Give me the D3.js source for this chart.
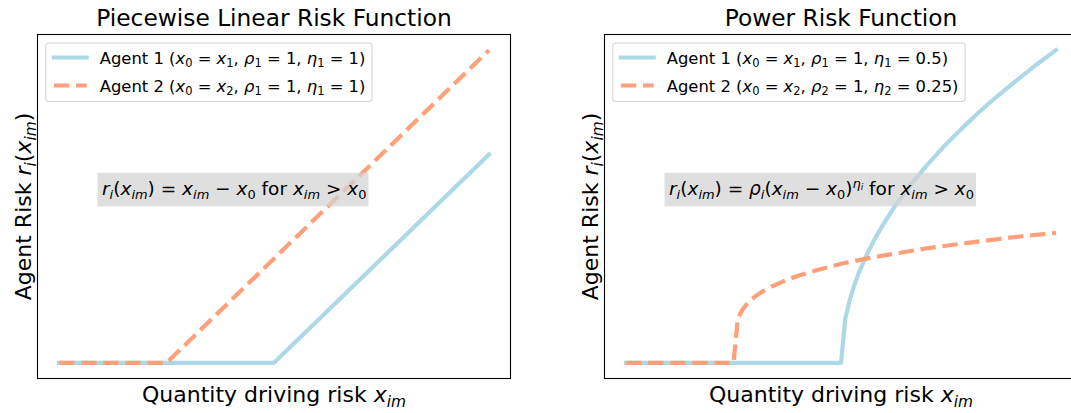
<!DOCTYPE html>
<html>
<head>
<meta charset="utf-8">
<script src="https://cdn.jsdelivr.net/npm/d3@7"></script>
<style>
  body { margin: 0; background: #fff; }
  svg { display: block; font-family: "DejaVu Sans", sans-serif; }
</style>
</head>
<body>
<div id="wrapper"></div>
<script>
// ---- data ----
// piecewise linear panel: breakpoints of each agent's risk curve
const linearAgent1X = [0, 50, 100];
const linearAgent1Y = [0, 0, 50];
const linearAgent2X = [0, 25, 100];
const linearAgent2Y = [0, 0, 75];

// power panel: sampled points of each agent's curve
const powerAgent1X = [0, 50, 51, 52, 53, 54, 56, 58, 60, 63, 66, 70, 74, 78, 82, 86, 90, 95, 100];
const powerAgent1Y = [0, 0, 1.00, 1.41, 1.73, 2.00, 2.45, 2.83, 3.16, 3.61, 4.00, 4.47, 4.90, 5.29, 5.66, 6.00, 6.32, 6.71, 7.07];
const powerAgent2X = [0, 25, 26, 27, 28, 29, 30, 32, 34, 37, 40, 45, 50, 55, 60, 70, 80, 90, 100];
const powerAgent2Y = [0, 0, 1.00, 1.19, 1.32, 1.41, 1.50, 1.63, 1.73, 1.86, 1.97, 2.11, 2.24, 2.34, 2.43, 2.59, 2.72, 2.84, 2.94];

const panelTitles = ["Piecewise Linear Risk Function", "Power Risk Function"];

// label pieces: [text, style]; style r = roman, i = italic, _ = subscript, ^ = superscript
const legendLabels = [
  [
    [["Agent 1 (", "r"], ["x", "i"], ["0", "_r"], [" = ", "r"], ["x", "i"], ["1", "_r"], [", ", "r"], ["ρ", "i"], ["1", "_r"], [" = 1, ", "r"], ["η", "i"], ["1", "_r"], [" = 1)", "r"]],
    [["Agent 2 (", "r"], ["x", "i"], ["0", "_r"], [" = ", "r"], ["x", "i"], ["2", "_r"], [", ", "r"], ["ρ", "i"], ["1", "_r"], [" = 1, ", "r"], ["η", "i"], ["1", "_r"], [" = 1)", "r"]],
  ],
  [
    [["Agent 1 (", "r"], ["x", "i"], ["0", "_r"], [" = ", "r"], ["x", "i"], ["1", "_r"], [", ", "r"], ["ρ", "i"], ["1", "_r"], [" = 1, ", "r"], ["η", "i"], ["1", "_r"], [" = 0.5)", "r"]],
    [["Agent 2 (", "r"], ["x", "i"], ["0", "_r"], [" = ", "r"], ["x", "i"], ["2", "_r"], [", ", "r"], ["ρ", "i"], ["2", "_r"], [" = 1, ", "r"], ["η", "i"], ["2", "_r"], [" = 0.25)", "r"]],
  ],
];

const formulas = [
  [["r", "i"], ["i", "_i"], ["(", "r"], ["x", "i"], ["im", "_i"], [") = ", "r"], ["x", "i"], ["im", "_i"], [" − ", "r"], ["x", "i"], ["0", "_r"], [" for ", "r"], ["x", "i"], ["im", "_i"], [" > ", "r"], ["x", "i"], ["0", "_r"]],
  [["r", "i"], ["i", "_i"], ["(", "r"], ["x", "i"], ["im", "_i"], [") = ", "r"], ["ρ", "i"], ["i", "_i"], ["(", "r"], ["x", "i"], ["im", "_i"], [" − ", "r"], ["x", "i"], ["0", "_r"], [")", "r"], ["η", "^i"], ["i", "^_i"], [" for ", "r"], ["x", "i"], ["im", "_i"], [" > ", "r"], ["x", "i"], ["0", "_r"]],
];

const yLabel = [["Agent Risk ", "r"], ["r", "i"], ["i", "_i"], ["(", "r"], ["x", "i"], ["im", "_i"], [")", "r"]];
const xLabel = [["Quantity driving risk ", "r"], ["x", "i"], ["im", "_i"]];

const agentColors = ["#add8e6", "#ffa07a"];

// ---- layout ----
const width = 1071, height = 413;
const axTop = 34.5, axBottom = 378.5;
const axLefts = [37.5, 604.5];
const axWidth = 473;

const svg = d3.select("#wrapper").append("svg")
  .attr("width", width)
  .attr("height", height);

// writes styled pieces into a <text> element as tspans
function richText(textSel, parts, size) {
  let shift = 0;
  parts.forEach(([t, style]) => {
    let s = 0, fs = size;
    if (style.startsWith("_")) { s = 0.22 * size; fs = 0.7 * size; }
    else if (style.startsWith("^_")) { s = -0.28 * size; fs = 0.49 * size; }
    else if (style.startsWith("^")) { s = -0.42 * size; fs = 0.7 * size; }
    textSel.append("tspan")
      .attr("dy", s - shift)
      .attr("font-size", fs)
      .attr("font-style", style.endsWith("i") ? "italic" : "normal")
      .text(t);
    shift = s;
  });
  return textSel;
}

function padDomain([a, b]) {
  const p = (b - a) * 0.05;
  return [a - p, b + p];
}

function drawPanel(i, series) {
  const left = axLefts[i];
  const g = svg.append("g");

  const allX = series.flatMap(s => s.x);
  const allY = series.flatMap(s => s.y);
  const xScale = d3.scaleLinear().domain(padDomain(d3.extent(allX))).range([left, left + axWidth]);
  const yScale = d3.scaleLinear().domain(padDomain(d3.extent(allY))).range([axBottom, axTop]);

  const line = d3.line()
    .x(d => xScale(d[0]))
    .y(d => yScale(d[1]));

  series.forEach((s, k) => {
    g.append("path")
      .datum(d3.zip(s.x, s.y))
      .attr("d", line)
      .attr("fill", "none")
      .attr("stroke", agentColors[k])
      .attr("stroke-width", 4.2)
      .attr("stroke-linejoin", "round")
      .attr("stroke-linecap", k === 0 ? "square" : "butt")
      .attr("stroke-dasharray", k === 1 ? "15.4,6.7" : null);
  });

  // formula annotation with a grey box
  const fSize = 18.5;
  const fy = axBottom - 0.55 * (axBottom - axTop) + 6;
  const fText = g.append("text")
    .attr("x", xScale(10))
    .attr("y", fy)
    .attr("font-size", fSize)
    .attr("fill", "#000");
  richText(fText, formulas[i], fSize);
  const bb = fText.node().getBBox();
  g.insert("rect", "text")
    .attr("x", bb.x - 4.5)
    .attr("y", fy - 22.5)
    .attr("width", bb.width + 6.5)
    .attr("height", 33.5)
    .attr("fill", "#d3d3d3")
    .attr("fill-opacity", 0.72);

  // axes frame, no ticks
  g.append("rect")
    .attr("x", left)
    .attr("y", axTop)
    .attr("width", axWidth)
    .attr("height", axBottom - axTop)
    .attr("fill", "none")
    .attr("stroke", "#000")
    .attr("stroke-width", 1.1);

  // legend
  const lSize = 16.4;
  const legend = g.append("g");
  const frame = legend.append("rect")
    .attr("x", left + 8.3)
    .attr("y", axTop + 8.5)
    .attr("rx", 3)
    .attr("fill", "#fff")
    .attr("fill-opacity", 0.8)
    .attr("stroke", "#d6d6d6")
    .attr("stroke-width", 1.1);
  let maxW = 0;
  legendLabels[i].forEach((lab, k) => {
    const cy = axTop + 23 + k * 28;
    const hx = left + 8.3 + 6.6 + 1.5;
    legend.append("line")
      .attr("x1", hx).attr("x2", hx + 32.8)
      .attr("y1", cy).attr("y2", cy)
      .attr("stroke", agentColors[k])
      .attr("stroke-width", 4.2)
      .attr("stroke-linecap", k === 0 ? "square" : "butt")
      .attr("stroke-dasharray", k === 1 ? "15.4,6.7" : null);
    const t = legend.append("text")
      .attr("x", hx + 32.8 + 13)
      .attr("y", cy + 6)
      .attr("font-size", lSize)
      .attr("fill", "#000");
    richText(t, lab, lSize);
    maxW = Math.max(maxW, t.node().getBBox().width);
  });
  frame
    .attr("width", 6.6 + 1.5 + 32.8 + 13 + maxW + 6.6)
    .attr("height", 58.5);

  // title
  g.append("text")
    .attr("x", left + axWidth / 2)
    .attr("y", 26)
    .attr("text-anchor", "middle")
    .attr("font-size", 23.3)
    .attr("fill", "#000")
    .text(panelTitles[i]);

  // x label
  richText(g.append("text")
    .attr("x", left + axWidth / 2)
    .attr("y", 402)
    .attr("text-anchor", "middle")
    .attr("font-size", 22)
    .attr("fill", "#000"), xLabel, 22);

  // y label
  richText(g.append("text")
    .attr("transform", `translate(${left - 6.5},${(axTop + axBottom) / 2}) rotate(-90)`)
    .attr("text-anchor", "middle")
    .attr("font-size", 22)
    .attr("fill", "#000"), yLabel, 22);
}

drawPanel(0, [
  { x: linearAgent1X, y: linearAgent1Y },
  { x: linearAgent2X, y: linearAgent2Y },
]);
drawPanel(1, [
  { x: powerAgent1X, y: powerAgent1Y },
  { x: powerAgent2X, y: powerAgent2Y },
]);
</script>
</body>
</html>
